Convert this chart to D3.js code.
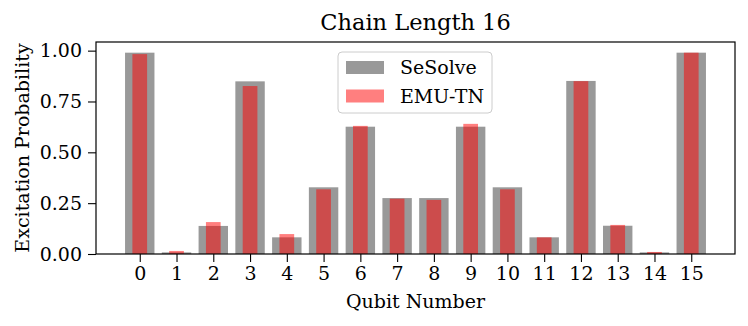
<!DOCTYPE html>
<html>
<head>
<meta charset="utf-8">
<script src="https://cdn.jsdelivr.net/npm/d3@7"></script>
<style>
  body { margin: 0; background: #fff; }
  svg text { font-family: "DejaVu Serif", serif; fill: #000; }
</style>
</head>
<body>
<div id="chart"></div>
<script>
const qubits = d3.range(16);
const tickLabels = qubits.map(String);
const sesolve = [0.990, 0.008, 0.138, 0.849, 0.082, 0.328, 0.626, 0.275,
                 0.275, 0.626, 0.328, 0.082, 0.851, 0.139, 0.008, 0.990];
const emutn = [0.983, 0.015, 0.157, 0.826, 0.098, 0.318, 0.630, 0.272,
               0.266, 0.640, 0.318, 0.082, 0.850, 0.143, 0.010, 0.990];
const seriesNames = ['SeSolve', 'EMU-TN'];

const width = 748, height = 326;
const margin = {top: 42, right: 13, bottom: 72, left: 96};
const plotW = width - margin.left - margin.right;
const plotH = height - margin.top - margin.bottom;

const svg = d3.select('#chart').append('svg')
  .attr('width', width)
  .attr('height', height);

const g = svg.append('g')
  .attr('transform', `translate(${margin.left},${margin.top})`);

// matplotlib-like autoscale: bars of width 0.8, 5% margins
const x = d3.scaleLinear()
  .domain([-0.4 - 0.79, 15.4 + 0.79])
  .range([0, plotW]);

const y = d3.scaleLinear()
  .domain([0, 0.99 * 1.05 + 0.003])
  .range([plotH, 0]);

// gray bars
g.selectAll('.se')
  .data(sesolve)
  .join('rect')
  .attr('class', 'se')
  .attr('x', (d, i) => x(qubits[i] - 0.4))
  .attr('width', x(0.8) - x(0))
  .attr('y', d => y(d))
  .attr('height', d => y(0) - y(d))
  .attr('fill', '#808080')
  .attr('fill-opacity', 0.8);

// red bars
g.selectAll('.emu')
  .data(emutn)
  .join('rect')
  .attr('class', 'emu')
  .attr('x', (d, i) => x(qubits[i] - 0.2))
  .attr('width', x(0.4) - x(0))
  .attr('y', d => y(d))
  .attr('height', d => y(0) - y(d))
  .attr('fill', '#ff0000')
  .attr('fill-opacity', 0.5);

// axes
const xAxis = d3.axisBottom(x)
  .tickValues(qubits)
  .tickFormat((d, i) => tickLabels[i])
  .tickSize(8)
  .tickPadding(5);

const yAxis = d3.axisLeft(y)
  .tickValues([0, 0.25, 0.5, 0.75, 1.0])
  .tickFormat(d3.format('.2f'))
  .tickSize(8)
  .tickPadding(6);

const gx = g.append('g')
  .attr('transform', `translate(0,${plotH})`)
  .call(xAxis);
const gy = g.append('g').call(yAxis);

[gx, gy].forEach(a => {
  a.select('.domain').remove();
  a.selectAll('.tick line').attr('stroke', '#000').attr('stroke-width', 1.1);
  a.selectAll('.tick text').style('font-size', '19px');
});

// frame
g.append('rect')
  .attr('width', plotW)
  .attr('height', plotH)
  .attr('fill', 'none')
  .attr('stroke', '#000')
  .attr('stroke-width', 1.2);

// title + labels
svg.append('text')
  .attr('x', margin.left + plotW / 2)
  .attr('y', 30)
  .attr('text-anchor', 'middle')
  .style('font-size', '22.5px')
  .text('Chain Length 16');

svg.append('text')
  .attr('x', margin.left + plotW / 2)
  .attr('y', 308)
  .attr('text-anchor', 'middle')
  .style('font-size', '19px')
  .text('Qubit Number');

svg.append('text')
  .attr('transform', `translate(29,${margin.top + plotH / 2}) rotate(-90)`)
  .attr('text-anchor', 'middle')
  .style('font-size', '19px')
  .text('Excitation Probability');

// legend
const legend = g.append('g')
  .attr('transform', `translate(${338 - margin.left},${52 - margin.top})`);

legend.append('rect')
  .attr('width', 154)
  .attr('height', 61)
  .attr('rx', 4)
  .attr('fill', '#fff')
  .attr('fill-opacity', 0.8)
  .attr('stroke', '#cccccc');

const legendColors = [
  {fill: '#808080', op: 0.8},
  {fill: '#ff0000', op: 0.5}
];

seriesNames.forEach((name, i) => {
  const row = legend.append('g')
    .attr('transform', `translate(8,${9 + i * 28.5})`);
  row.append('rect')
    .attr('width', 38)
    .attr('height', 13)
    .attr('fill', legendColors[i].fill)
    .attr('fill-opacity', legendColors[i].op);
  row.append('text')
    .attr('x', 54)
    .attr('y', 13)
    .style('font-size', '19px')
    .text(name);
});
</script>
</body>
</html>
